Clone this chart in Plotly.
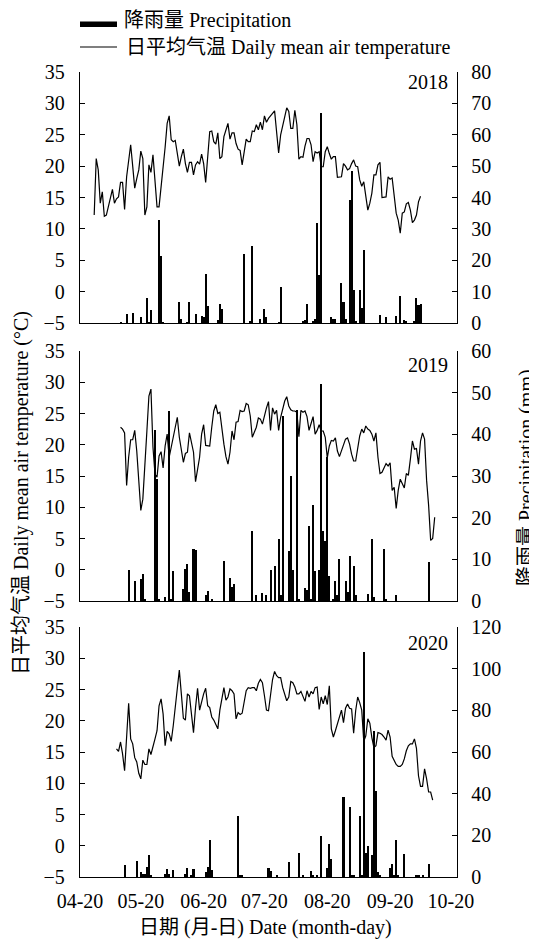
import plotly.graph_objects as go

# ---------------- data ----------------
# x values are days after 04-20
TICK_DAYS = [0, 30, 61, 91, 122, 153, 183]
TICK_LABELS = ["04-20", "05-20", "06-20", "07-20", "08-20", "09-20", "10-20"]

YEARS = ["2018", "2019", "2020"]

T2018_START = 7
T2018 = [12.2, 21.2, 19.4, 14.1, 15.9, 12.0, 12.2, 13.5, 15.0, 16.3, 14.1, 14.8, 15.1, 17.4, 17.4, 13.1,
         18.3, 21.0, 23.4, 20.0, 16.5, 18.0, 19.4, 22.4, 21.2, 12.2, 13.5, 20.2, 19.0, 21.8, 17.3, 13.5,
         13.5, 16.5, 19.4, 23.0, 26.8, 28.0, 24.2, 23.9, 24.1, 22.1, 20.0, 21.5, 22.7, 20.4, 19.0, 20.6,
         20.6, 18.6, 20.2, 20.7, 20.3, 21.9, 20.4, 17.4, 21.0, 25.5, 25.6, 23.9, 23.5, 25.3, 21.2, 21.5,
         24.7, 25.8, 26.8, 24.3, 25.3, 25.3, 23.6, 22.7, 22.5, 20.2, 22.0, 24.3, 23.9, 23.9, 25.6, 25.5,
         26.6, 25.8, 27.0, 25.8, 28.0, 27.0, 27.6, 28.1, 28.4, 28.8, 24.7, 22.1, 25.0, 26.6, 28.1, 29.3,
         28.7, 26.0, 26.0, 28.9, 26.6, 21.1, 21.5, 21.4, 23.2, 24.4, 24.4, 23.4, 20.7, 22.3, 22.1, 22.3,
         19.9, 19.9, 22.3, 23.1, 22.0, 21.1, 21.5, 21.5, 18.2, 18.2, 18.3, 20.4, 20.0, 19.4, 19.6, 20.4,
         21.0, 20.0, 19.9, 17.8, 16.8, 17.5, 15.1, 13.0, 14.1, 15.7, 18.6, 18.6, 20.2, 20.6, 15.0, 15.0,
         15.1, 18.3, 17.9, 18.1, 15.7, 12.5, 11.4, 9.3, 12.5, 12.7, 14.0, 14.2, 13.0, 11.0, 11.4, 12.2,
         14.3, 15.2]

T2019_START = 20
T2019 = [22.8, 22.5, 21.9, 13.5, 18.0, 20.8, 20.8, 22.3, 19.0, 14.3, 9.5, 11.3, 15.9, 22.2, 27.8, 28.9,
         19.6, 15.3, 14.8, 18.2, 18.9, 16.3, 19.8, 21.7, 18.0, 19.6, 20.9, 22.8, 24.4, 21.2, 19.3, 17.2,
         18.6, 18.8, 21.9, 20.4, 18.8, 14.1, 15.9, 18.0, 21.7, 23.2, 19.9, 19.8, 19.8, 22.8, 25.4, 26.4,
         25.0, 25.2, 22.2, 20.1, 18.1, 16.9, 18.8, 22.2, 20.8, 23.6, 23.7, 25.5, 25.3, 25.4, 26.6, 26.4,
         24.6, 21.2, 22.0, 22.8, 24.3, 24.1, 23.3, 24.9, 25.9, 26.9, 22.3, 25.9, 24.9, 25.5, 22.3, 24.4,
         26.0, 27.0, 27.7, 26.2, 25.6, 25.4, 25.4, 25.2, 21.3, 25.5, 25.2, 25.4, 24.5, 22.3, 23.4, 24.5,
         21.7, 22.3, 23.2, 22.2, 22.2, 21.2, 17.9, 19.8, 20.7, 20.6, 21.1, 19.0, 18.1, 19.1, 20.1, 20.9,
         21.1, 20.1, 18.5, 17.4, 17.4, 19.8, 21.4, 22.5, 21.9, 23.0, 22.5, 22.3, 21.7, 20.6, 21.9, 18.0,
         15.4, 15.6, 16.4, 17.0, 16.6, 17.1, 12.7, 13.2, 9.8, 12.7, 14.5, 13.8, 13.1, 15.4, 15.1, 17.7,
         20.6, 19.3, 19.4, 16.9, 20.6, 21.9, 20.9, 14.3, 10.3, 4.7, 5.0, 8.4]

T2020_START = 18
T2020 = [15.5, 15.1, 16.6, 14.7, 12.0, 17.3, 22.8, 17.1, 16.3, 14.1, 13.4, 11.6, 10.7, 13.7, 13.0, 13.0,
         15.5, 14.6, 15.7, 17.1, 18.4, 22.4, 23.5, 21.1, 16.0, 18.3, 17.9, 16.7, 19.2, 22.0, 25.2, 28.1,
         24.3, 20.4, 20.1, 24.3, 24.0, 21.0, 18.1, 22.1, 25.2, 21.7, 23.1, 24.3, 25.2, 22.4, 22.1, 20.6,
         20.1, 19.5, 18.7, 21.7, 23.8, 25.3, 23.3, 23.8, 25.1, 24.8, 24.3, 20.3, 21.3, 21.0, 21.2, 23.3,
         24.8, 25.3, 25.2, 25.3, 25.3, 24.8, 26.0, 26.6, 26.1, 24.0, 21.7, 21.6, 24.3, 26.6, 27.9,
         27.2, 26.9, 26.9, 25.3, 24.0, 23.2, 23.8, 26.3, 26.1, 25.4, 24.3, 24.3, 24.7, 24.0, 23.1, 24.8,
         23.8, 24.7, 24.3, 25.3, 25.4, 21.8, 23.8, 22.7, 24.0, 22.6, 25.6, 18.7, 17.4, 18.4, 19.5, 20.3,
         21.7, 19.7, 22.0, 22.7, 22.0, 21.9, 18.0, 21.6, 23.8, 22.9, 21.7, 16.7, 17.6, 20.3, 19.6, 17.3,
         15.7, 16.0, 18.1, 18.0, 17.8, 17.4, 16.9, 18.5, 17.4, 14.3, 13.6, 13.0, 12.7, 12.7, 13.0, 13.9,
         15.2, 16.0, 16.3, 16.3, 17.1, 15.6, 11.2, 9.5, 9.5, 12.3, 10.7, 8.6, 8.6, 7.3]

P2018_DAY = [20, 23, 26, 30, 33, 34, 35, 39, 40, 41, 49, 50, 53, 54, 57, 60, 61, 62, 63, 68,
             69, 70, 81, 84, 85, 89, 91, 92, 98, 99, 110, 111, 112, 115, 116, 117, 118, 119, 124, 125,
             126, 129, 130, 131, 133, 134, 135, 136, 138, 139, 140, 148, 151, 156, 158, 160, 161, 165, 166, 167,
             168]
P2018_MM = [0.3, 2.8, 3.3, 1.9, 7.9, 0.3, 4.1, 32.8, 21.2, 0.3, 6.6, 1.2, 0.3, 6.6, 2.8, 2.2, 1.9, 15.5, 5.4, 1.1,
            6.0, 4.5, 22.1, 0.6, 24.5, 1.4, 4.5, 2.0, 0.3, 11.5, 0.4, 0.9, 6.0, 0.4, 1.4, 31.8, 15.3, 66.9, 2.0, 1.4,
            1.2, 12.6, 6.6, 1.4, 39.1, 48.5, 10.5, 0.4, 10.6, 4.7, 23.4, 2.6, 1.9, 2.1, 8.6, 1.1, 0.4, 0.6, 8.1, 5.6,
            6.2]

P2019_DAY = [24, 27, 30, 31, 32, 37, 38, 39, 42, 44, 45, 46, 51, 52, 53, 54, 56, 57, 62, 63,
             65, 71, 74, 75, 76, 85, 87, 90, 92, 94, 96, 98, 99, 100, 103, 104, 105, 107, 108, 111,
             112, 113, 114, 115, 116, 118, 119, 120, 121, 122, 123, 125, 126, 127, 128, 131, 132, 133, 135, 136,
             142, 144, 145, 150, 151, 156, 172]
P2019_MM = [7.5, 4.7, 5.3, 6.5, 0.3, 41.0, 29.3, 0.3, 1.0, 45.6, 0.3, 7.2, 3.0, 7.7, 8.8, 2.2, 12.5, 12.3, 1.4, 2.3,
            0.3, 9.6, 5.5, 3.4, 4.0, 16.7, 1.4, 1.9, 1.4, 7.5, 8.3, 14.9, 1.5, 44.3, 12.1, 30.1, 7.5, 45.8, 0.3, 3.1,
            2.6, 18.1, 0.3, 23.1, 7.2, 7.5, 52.0, 16.9, 14.4, 34.5, 6.1, 0.3, 4.9, 1.5, 10.0, 4.9, 2.2, 10.9, 8.5, 1.4,
            1.8, 14.9, 1.0, 12.5, 0.3, 1.4, 9.3]

P2020_DAY = [22, 28, 30, 31, 32, 33, 34, 35, 42, 43, 44, 46, 52, 53, 55, 56, 62, 63, 64, 65,
             78, 79, 80, 93, 94, 97, 103, 108, 110, 114, 115, 117, 119, 122, 123, 124, 130, 133, 134, 135,
             138, 139, 140, 141, 142, 144, 145, 146, 147, 148, 153, 154, 155, 156, 157, 160, 166, 167, 169, 172]
P2020_MM = [5.6, 7.5, 2.4, 1.6, 1.6, 4.8, 10.7, 0.8, 1.6, 4.0, 1.6, 3.2, 1.3, 4.3, 0.8, 3.7, 2.4, 4.8, 18.0, 3.5,
            29.5, 0.8, 0.5, 4.3, 2.9, 0.5, 7.2, 11.5, 0.5, 2.9, 0.5, 0.5, 19.5, 4.3, 15.9, 8.8, 38.6, 33.8, 1.1, 0.8,
            29.2, 0.5, 108.1, 11.5, 15.0, 10.4, 69.9, 41.5, 2.4, 0.5, 4.3, 6.4, 0.5, 17.9, 0.5, 11.2, 0.5, 0.5, 0.5, 6.1]

TEMP_TICKS = [-5, 0, 5, 10, 15, 20, 25, 30, 35]
PRECIP_TICKS = [
    [0, 10, 20, 30, 40, 50, 60, 70, 80],
    [0, 10, 20, 30, 40, 50, 60],
    [0, 20, 40, 60, 80, 100, 120],
]

TEMPS = [(T2018_START, T2018), (T2019_START, T2019), (T2020_START, T2020)]
PRECIPS = [(P2018_DAY, P2018_MM), (P2019_DAY, P2019_MM), (P2020_DAY, P2020_MM)]

# ---------------- figure ----------------
FONT = "Liberation Serif, Noto Sans CJK SC, serif"
TICK_FONT = "Liberation Serif"
OFF = 8  # page body margin
W, H = 537 - OFF, 940 - OFF
PLOT_L, PLOT_R, PLOT_T, PLOT_B = 80, 457, 72, 877   # target screen pixels
ML, MT = PLOT_L - OFF, PLOT_T - OFF
MR, MB = W - (PLOT_R - OFF), H - (PLOT_B - OFF)
PW, PH = PLOT_R - PLOT_L, PLOT_B - PLOT_T


def px_x(x):
    return (x - PLOT_L) / PW


def px_y(y):
    return (PLOT_B - y) / PH


DOMAINS = [[px_y(323), 1.0], [px_y(601), px_y(351)], [0.0, px_y(627)]]

fig = go.Figure()
for i in range(3):
    xa = "x" if i == 0 else f"x{i + 1}"
    yt = "y" if i == 0 else f"y{2 * i + 1}"
    yp = f"y{2 * i + 2}"
    pdays, pmm = PRECIPS[i]
    fig.add_trace(go.Bar(x=pdays, y=pmm, xaxis=xa, yaxis=yp, width=1.0,
                         marker=dict(color="black", line=dict(width=0)), name="降雨量 Precipitation"))
    start, temps = TEMPS[i]
    days = list(range(start, start + len(temps)))
    fig.add_trace(go.Scatter(x=days, y=temps, xaxis=xa, yaxis=yt, mode="lines",
                             line=dict(color="black", width=1.2), name="日平均气温 Daily mean air temperature"))

axis_common = dict(showline=True, linecolor="black", linewidth=1.3, showgrid=False, zeroline=False,
                   tickfont=dict(family=TICK_FONT, size=20, color="black"))

layout = dict(width=W, height=H, margin=dict(l=ML, r=MR, t=MT, b=MB, pad=0),
              paper_bgcolor="white", plot_bgcolor="white", showlegend=False, bargap=0,
              font=dict(family=FONT, size=20, color="black"))

for i in range(3):
    xk = "xaxis" if i == 0 else f"xaxis{i + 1}"
    ytk = "yaxis" if i == 0 else f"yaxis{2 * i + 1}"
    ypk = f"yaxis{2 * i + 2}"
    xa = "x" if i == 0 else f"x{i + 1}"
    yt = "y" if i == 0 else f"y{2 * i + 1}"
    layout[xk] = dict(axis_common, domain=[0, 1], range=[0, 186], anchor=yt, ticks="",
                      tickvals=TICK_DAYS, ticktext=TICK_LABELS, showticklabels=(i == 2),
                      ticklabelstandoff=6)
    layout[ytk] = dict(axis_common, domain=DOMAINS[i], range=[-5, 35], anchor=xa,
                       tickvals=TEMP_TICKS, ticktext=[str(v).replace("-", "\u2212") for v in TEMP_TICKS],
                       ticks="inside", ticklen=5, tickwidth=1.3, tickcolor="black", ticklabelstandoff=10)
    pt = PRECIP_TICKS[i]
    layout[ypk] = dict(axis_common, range=[0, pt[-1]], anchor=xa, overlaying=yt, side="right",
                       tickvals=pt, ticktext=[str(v) for v in pt],
                       ticks="inside", ticklen=5, tickwidth=1.3, tickcolor="black", ticklabelstandoff=9)

fig.update_layout(**layout)

# year labels
for yr, yc in zip(YEARS, [82, 365, 643]):
    fig.add_annotation(text=yr, xref="paper", yref="paper", x=px_x(450), y=px_y(yc),
                       xanchor="right", yanchor="middle", showarrow=False,
                       font=dict(family=TICK_FONT, size=20, color="black"))

# legend
fig.add_shape(type="rect", xref="paper", yref="paper", x0=px_x(80), x1=px_x(117),
              y0=px_y(27), y1=px_y(21.5), fillcolor="black", line=dict(width=0))
fig.add_shape(type="line", xref="paper", yref="paper", x0=px_x(80), x1=px_x(117),
              y0=px_y(47), y1=px_y(47), line=dict(color="black", width=1.2))
fig.add_annotation(text="降雨量 Precipitation", xref="paper", yref="paper", x=px_x(122), y=px_y(20),
                   xanchor="left", yanchor="middle", showarrow=False,
                   font=dict(family=FONT, size=20, color="black"))
fig.add_annotation(text="日平均气温 Daily mean air temperature", xref="paper", yref="paper",
                   x=px_x(124), y=px_y(47), xanchor="left", yanchor="middle", showarrow=False,
                   font=dict(family=FONT, size=20, color="black"))

# axis titles
fig.add_annotation(text="日平均气温 Daily mean air temperature (°C)", xref="paper", yref="paper",
                   x=px_x(21), y=px_y(493), xanchor="center", yanchor="middle", textangle=-90,
                   showarrow=False, font=dict(family=FONT, size=20, color="black"))
fig.add_annotation(text="降雨量 Precipitation (mm)", xref="paper", yref="paper",
                   x=px_x(526), y=px_y(478), xanchor="center", yanchor="middle", textangle=-90,
                   showarrow=False, font=dict(family=FONT, size=20, color="black"))
fig.add_annotation(text="日期 (月-日) Date (month-day)", xref="paper", yref="paper",
                   x=px_x(265), y=px_y(928), xanchor="center", yanchor="middle",
                   showarrow=False, font=dict(family=FONT, size=20, color="black"))

fig.write_html("out.html")
